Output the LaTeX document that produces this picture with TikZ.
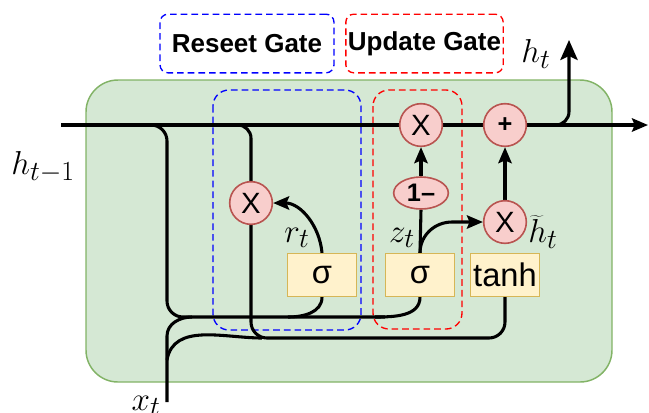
\documentclass[tikz,border=0pt]{standalone}
\usepackage{fontspec}
\setsansfont{Liberation Sans}
\usetikzlibrary{arrows.meta,shapes.geometric,backgrounds}
\definecolor{gfill}{HTML}{D5E8D4}
\definecolor{gdraw}{HTML}{82B366}
\definecolor{rfill}{HTML}{F8CECC}
\definecolor{rdraw}{HTML}{B85450}
\definecolor{yfill}{HTML}{FFF2CC}
\definecolor{ydraw}{HTML}{D6B656}
\definecolor{bdash}{HTML}{0000FF}
\definecolor{rdash}{HTML}{FF0000}
\begin{document}
\begin{tikzpicture}[x=0.75pt,y=-0.75pt,
  wire/.style={line width=2.3pt, black},
  tip/.style={-{Stealth[length=12pt,width=10pt,inset=2pt]}},
  bigtip/.style={-{Stealth[length=15pt,width=13pt,inset=3pt]}},
  op/.style={circle, fill=rfill, draw=rdraw, line width=1.2pt, minimum size=32pt, inner sep=0pt, font=\sffamily\fontsize{22}{22}\selectfont},
  oneminus/.style={ellipse, fill=rfill, draw=rdraw, line width=1.2pt, minimum width=41pt, minimum height=24pt, inner sep=0pt, font=\sffamily\bfseries\fontsize{19}{19}\selectfont},
  gatebox/.style={rectangle, fill=yfill, draw=ydraw, line width=1.2pt, minimum width=52pt, minimum height=32pt, inner sep=0pt, font=\sffamily\fontsize{24.5}{24.5}\selectfont},
  mlab/.style={inner sep=0pt, font=\fontsize{29}{32}\selectfont},
  glabel/.style={dashed, dash pattern=on 5pt off 3pt, line width=1pt, rounded corners=6pt, inner sep=0pt, font=\sffamily\bfseries\fontsize{19.5}{21}\selectfont},
  gdash/.style={dash pattern=on 5pt off 3pt, line width=1pt, rounded corners=12pt}
]
\useasboundingbox (0,0) rectangle (649,412);

% operator nodes
\node[op] (m1) at (421,125) {X};
\node[op, font=\sffamily\bfseries\fontsize{19}{19}\selectfont] (pl) at (505,125) {+};
\node[oneminus] (om) at (421,193) {1–};
\node[op] (m2) at (505,222) {X};
\node[op] (m3) at (251,203) {X};
\node[gatebox] (s1) at (322,275) {σ};
\node[gatebox] (s2) at (420,275) {σ};
\node[gatebox] (th) at (505,275) {tanh};

% gate labels
\node[glabel, draw=bdash, minimum width=130.5pt, minimum height=44pt] (rg) at (247,43.5) {Reseet Gate};
\node[glabel, draw=rdash, minimum width=118pt, minimum height=44pt] (ug) at (424.5,43.5) {Update Gate};

% math labels
\node[mlab] (lhprev) at (43,167) {$h_{t-1}$};
\node[mlab] (lxt) at (146,406) {$x_t$};
\node[mlab] (lht) at (536,54) {$h_t$};
\node[mlab] (lrt) at (297,238) {$r_t$};
\node[mlab] (lzt) at (402,238) {$z_t$};
\node[mlab] (lhtil) at (543,232) {$\widetilde{h}_t$};

% coordinates
\coordinate (hin) at (61,125);
\coordinate (hout) at (648,125);
\coordinate (htop) at (569,40);
\coordinate (xin) at (167,402);
\coordinate (brA) at (140,125);
\coordinate (brB) at (228,125);
\coordinate (brH) at (545,125);

\begin{scope}[on background layer]
  \filldraw[fill=gfill, draw=gdraw, line width=1.1pt, rounded corners=24pt] (86,80) rectangle (612,382);
  \draw[gdash, draw=bdash] (213,90) rectangle (361,330);
  \draw[gdash, draw=rdash] (373,90) rectangle (462,329);

  % main state line
  \draw[wire, tip] (hin) -- (hout);
  % output h_t
  \draw[wire, bigtip, rounded corners=10pt] (brH) -- (569,125) -- (htop);
  % h_{t-1} to gates
  \draw[wire, rounded corners=12pt] (brA) -- (167,125) -- (167,317) -- (385,317);
  \draw[wire] (s1.south) to[out=-90,in=0] (288,317);
  \draw[wire] (s2.south) to[out=-90,in=0] (375,317);
  % x_t
  \draw[wire] (xin) -- (167,336) to[out=90,in=180] (192,317);
  \draw[wire] (167,360) to[out=80,in=180] (262,338);
  % reset path
  \draw[wire, rounded corners=10pt] (brB) -- (251,125) -- (m3.north);
  \draw[wire, rounded corners=12pt] (m3.south) -- (251,338) -- (505,338) -- (th.south);
  \draw[wire, tip] (s1.north) to[out=95,in=0] (m3.east);
  % update path
  \draw[wire] (s2.north) -- (om.south);
  \draw[wire, tip] (om.north) -- (m1.south);
  \draw[wire, tip] (s2.north) to[out=90,in=180] (452,222) -- (m2.west);
  \draw[wire, tip] (m2.north) -- (pl.south);
\end{scope}
\end{tikzpicture}
\end{document}
